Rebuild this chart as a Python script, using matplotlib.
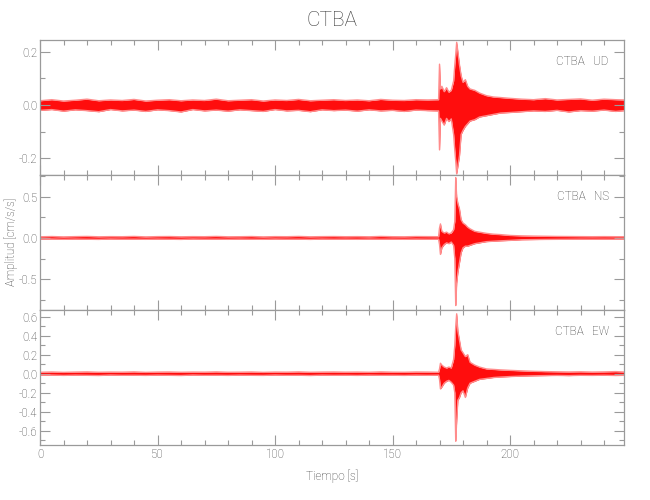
import matplotlib
matplotlib.use("Agg")
import matplotlib.pyplot as plt
from matplotlib.ticker import MultipleLocator

plt.rcParams.update({
    "font.family": ["Roboto", "DejaVu Sans"],
    "font.weight": "light",
    "font.size": 8.5,
    "axes.edgecolor": "#9a9a9a",
    "axes.linewidth": 0.9,
    "axes.labelcolor": "#3c3c3c",
    "axes.labelweight": "light",
    "axes.titleweight": "light",
    "xtick.color": "#9a9a9a",
    "ytick.color": "#9a9a9a",
    "xtick.labelcolor": "#3c3c3c",
    "ytick.labelcolor": "#3c3c3c",
    "text.color": "#3c3c3c",
})

STATION = "CTBA"
COMPONENTS = ["UD", "NS", "EW"]

# envelope knots of the traces (s)
TIME = [0, 5, 10, 15, 20, 25, 30, 35, 40, 45, 50, 55, 60, 65, 70, 75, 80,
        85, 90, 95, 100, 105, 110, 115, 120, 125, 130, 135, 140, 145, 150,
        155, 160, 165,
        169.6, 170.0, 170.4, 171, 172, 173, 174, 175, 176,
        176.5, 176.9, 177.3, 177.8, 178.5, 179.2,
        180, 181, 182, 183, 185, 187, 190, 193, 196, 200,
        205, 210, 215, 220, 225, 230, 235, 240, 245, 248.5]

# UD  (cm/s/s)
UD_UP = [0.016, 0.020, 0.015, 0.018, 0.022, 0.016, 0.019, 0.017, 0.021, 0.015,
         0.018, 0.020, 0.016, 0.019, 0.017, 0.022, 0.016, 0.018, 0.020, 0.015,
         0.019, 0.017, 0.021, 0.016, 0.018, 0.020, 0.017, 0.019, 0.016, 0.021,
         0.018, 0.017, 0.020, 0.019,
         0.020, 0.153, 0.060, 0.070, 0.050, 0.065, 0.048, 0.055, 0.090,
         0.150, 0.190, 0.235, 0.200, 0.150, 0.110,
         0.085, 0.095, 0.070, 0.060, 0.055, 0.045, 0.035, 0.030, 0.028, 0.025,
         0.022, 0.020, 0.024, 0.019, 0.021, 0.023, 0.018, 0.022, 0.020, 0.019]
UD_LO = [-0.020, -0.017, -0.023, -0.018, -0.021, -0.025, -0.017, -0.022, -0.019, -0.024,
         -0.018, -0.021, -0.026, -0.017, -0.022, -0.019, -0.023, -0.018, -0.021, -0.024,
         -0.017, -0.022, -0.020, -0.025, -0.018, -0.021, -0.019, -0.023, -0.018, -0.022,
         -0.020, -0.024, -0.019, -0.021,
         -0.022, -0.168, -0.050, -0.060, -0.075, -0.050, -0.062, -0.052, -0.110,
         -0.170, -0.210, -0.258, -0.230, -0.190, -0.110,
         -0.095, -0.080, -0.070, -0.060, -0.055, -0.045, -0.040, -0.035, -0.030, -0.028,
         -0.025, -0.022, -0.024, -0.020, -0.026, -0.021, -0.023, -0.019, -0.024, -0.021]

# NS
NS_UP = [0.014, 0.017, 0.013, 0.016, 0.018, 0.014, 0.016, 0.015, 0.018, 0.013,
         0.016, 0.017, 0.014, 0.016, 0.015, 0.018, 0.014, 0.015, 0.017, 0.013,
         0.016, 0.015, 0.018, 0.014, 0.016, 0.017, 0.015, 0.016, 0.014, 0.018,
         0.015, 0.014, 0.017, 0.016,
         0.015, 0.120, 0.170, 0.080, 0.060, 0.070, 0.050, 0.060, 0.100,
         0.200, 0.730, 0.500, 0.420, 0.350, 0.220,
         0.180, 0.160, 0.130, 0.110, 0.080, 0.070, 0.055, 0.045, 0.040, 0.030,
         0.025, 0.022, 0.020, 0.018, 0.017, 0.016, 0.015, 0.016, 0.015, 0.015]
NS_LO = [-0.015, -0.013, -0.017, -0.014, -0.016, -0.018, -0.013, -0.016, -0.015, -0.017,
         -0.014, -0.016, -0.018, -0.013, -0.016, -0.015, -0.017, -0.014, -0.016, -0.017,
         -0.013, -0.016, -0.015, -0.018, -0.014, -0.016, -0.015, -0.017, -0.014, -0.016,
         -0.015, -0.017, -0.014, -0.016,
         -0.015, -0.080, -0.200, -0.120, -0.080, -0.060, -0.070, -0.050, -0.090,
         -0.250, -0.820, -0.550, -0.420, -0.300, -0.180,
         -0.120, -0.100, -0.100, -0.090, -0.070, -0.060, -0.045, -0.040, -0.035, -0.030,
         -0.022, -0.020, -0.018, -0.017, -0.016, -0.015, -0.016, -0.015, -0.016, -0.015]

# EW
EW_UP = [0.015, 0.018, 0.014, 0.017, 0.019, 0.015, 0.017, 0.016, 0.019, 0.014,
         0.017, 0.018, 0.015, 0.017, 0.016, 0.019, 0.015, 0.016, 0.018, 0.014,
         0.017, 0.016, 0.019, 0.015, 0.017, 0.018, 0.016, 0.017, 0.015, 0.019,
         0.016, 0.015, 0.018, 0.017,
         0.015, 0.050, 0.110, 0.090, 0.070, 0.060, 0.070, 0.060, 0.150,
         0.300, 0.500, 0.630, 0.450, 0.350, 0.250,
         0.220, 0.180, 0.200, 0.120, 0.090, 0.070, 0.050, 0.045, 0.040, 0.035,
         0.030, 0.025, 0.022, 0.020, 0.018, 0.020, 0.017, 0.019, 0.022, 0.018]
EW_LO = [-0.016, -0.014, -0.018, -0.015, -0.017, -0.019, -0.014, -0.017, -0.016, -0.018,
         -0.015, -0.017, -0.019, -0.014, -0.017, -0.016, -0.018, -0.015, -0.017, -0.018,
         -0.014, -0.017, -0.016, -0.019, -0.015, -0.017, -0.016, -0.018, -0.015, -0.017,
         -0.016, -0.018, -0.015, -0.017,
         -0.015, -0.060, -0.160, -0.140, -0.100, -0.080, -0.070, -0.090, -0.120,
         -0.200, -0.710, -0.500, -0.280, -0.250, -0.200,
         -0.180, -0.250, -0.150, -0.100, -0.080, -0.060, -0.050, -0.040, -0.035, -0.030,
         -0.025, -0.022, -0.020, -0.018, -0.020, -0.017, -0.018, -0.016, -0.019, -0.017]

UPPER = [UD_UP, NS_UP, EW_UP]
LOWER = [UD_LO, NS_LO, EW_LO]

YLIMS = [(-0.262, 0.2435), (-0.874, 0.763), (-0.75, 0.67)]
YMAJOR = [0.2, 0.5, 0.2]
YMINOR = [0.1, 0.25, 0.1]
XLIM = (0, 248.5)

RED = "#ff0000"
PINK = "#ff8c8c"

fig = plt.figure(figsize=(6.5, 5.0), dpi=100)

left, width = 40 / 650, 584 / 650
tops = [40, 175, 310]
axes = []
for i, comp in enumerate(COMPONENTS):
    y0 = 1 - (tops[i] + 135) / 500
    ax = fig.add_axes([left, y0, width, 135 / 500])
    axes.append(ax)

    ax.plot(TIME, UPPER[i], color=PINK, lw=1.0)
    ax.plot(TIME, LOWER[i], color=PINK, lw=1.0)
    ax.fill_between(TIME, LOWER[i], UPPER[i], color=RED, alpha=0.95, lw=0)

    ax.set_xlim(*XLIM)
    ax.set_ylim(*YLIMS[i])
    ax.xaxis.set_major_locator(MultipleLocator(50))
    ax.xaxis.set_minor_locator(MultipleLocator(10))
    ax.yaxis.set_major_locator(MultipleLocator(YMAJOR[i]))
    ax.yaxis.set_minor_locator(MultipleLocator(YMINOR[i]))
    ax.tick_params(which="both", direction="in", top=True, right=True,
                   labelsize=8.3, width=0.8, pad=2)
    ax.tick_params(which="major", length=7)
    ax.tick_params(which="minor", length=3.6)
    ax.yaxis.set_major_formatter(plt.FormatStrFormatter("%.1f"))
    if i < 2:
        ax.tick_params(labelbottom=False)

    ax.text(0.974, 0.84, f"{STATION}   {comp}", transform=ax.transAxes,
            ha="right", va="center", fontsize=8.5)

axes[0].set_title(STATION, fontsize=15, pad=10, color="#3c3c3c")
fig.text(11 / 650, 1 - 242 / 500, "Amplitud [cm/s/s]", rotation=90,
         ha="center", va="center", fontsize=8.3)
axes[2].set_xlabel("Tiempo [s]", fontsize=8.5, labelpad=6)

fig.savefig("out.png", dpi=100)
